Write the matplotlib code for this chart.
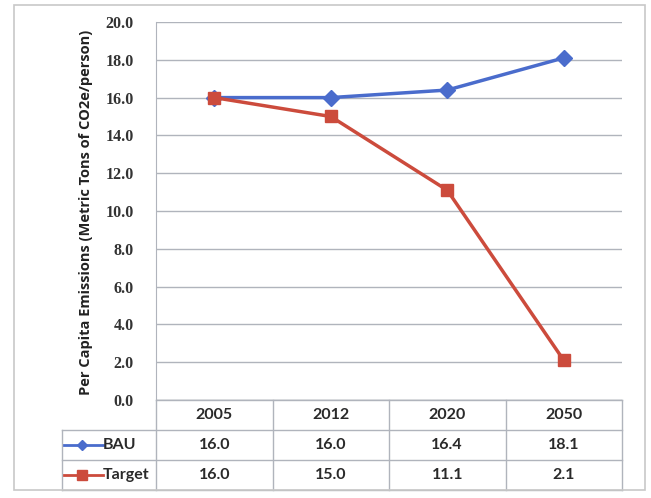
import matplotlib
matplotlib.use("Agg")
import matplotlib.pyplot as plt
from matplotlib.lines import Line2D
from matplotlib.patches import Rectangle

years = ["2005", "2012", "2020", "2050"]
bau = [16.0, 16.0, 16.4, 18.1]
target = [16.0, 15.0, 11.1, 2.1]
series_names = ["BAU", "Target"]
yticks = [0, 2, 4, 6, 8, 10, 12, 14, 16, 18, 20]
ylabel = "Per Capita Emissions (Metric Tons of CO2e/person)"

W, H = 651, 498
fig = plt.figure(figsize=(W / 100, H / 100), dpi=100)
fig.patch.set_facecolor("white")

def fx(px):
    return px / W

def fy(py):
    return 1 - py / H

blue = "#4a6ccc"
red = "#cc4b3c"
grid_c = "#b0b4bc"
tick_font = "Liberation Serif"
label_font = "Open Sans"
table_font = "Lato"

# outer chart border
fig.add_artist(Rectangle((fx(14), fy(490)), fx(645) - fx(14), fy(5) - fy(490),
                         transform=fig.transFigure, fill=False, ec="#c8c8c8", lw=1.2))

L, R, T, B = 156, 622, 22, 400
ax = fig.add_axes([fx(L), fy(B), fx(R) - fx(L), fy(T) - fy(B)])
x = list(range(len(years)))
ax.set_xlim(-0.5, len(years) - 0.5)
ax.set_ylim(0, 20)
ax.set_yticks(yticks)
ax.set_yticklabels([f"{v:.1f}" for v in yticks], fontfamily=tick_font,
                   fontsize=11.5, fontweight="bold", color="#333333")
ax.set_xticks([])
for s in ["top", "right", "bottom"]:
    ax.spines[s].set_visible(False)
ax.spines["left"].set_color(grid_c)
ax.tick_params(axis="y", length=0, pad=16)
ax.yaxis.grid(True, color=grid_c, lw=1)
ax.set_axisbelow(True)
ax.axhline(0, color=grid_c, lw=1)

ax.plot(x, bau, color=blue, lw=2.5, marker="D", ms=8, mfc=blue, mec=blue, zorder=3)
ax.plot(x, target, color=red, lw=2.5, marker="s", ms=9, mfc=red, mec=red, zorder=3)

fig.text(fx(86), fy(212), ylabel, rotation=90, ha="center", va="center",
         fontfamily=label_font, fontsize=10.5, fontweight="bold", color="#222222")

# data table
tax = fig.add_axes([0, 0, 1, 1], facecolor="none")
tax.set_xlim(0, W)
tax.set_ylim(H, 0)
tax.axis("off")
col_edges = [L + (R - L) * i / len(years) for i in range(len(years) + 1)]
row_edges = [400, 430, 460, 490]
tl = 62
lc = grid_c
tax.plot([L, R], [row_edges[0]] * 2, color=lc, lw=1)
for yv in row_edges[1:]:
    tax.plot([tl, R], [yv, yv], color=lc, lw=1)
for xv in col_edges:
    tax.plot([xv, xv], [row_edges[0], row_edges[-1]], color=lc, lw=1)
tax.plot([tl, tl], [row_edges[1], row_edges[-1]], color=lc, lw=1)

cell_font = dict(fontfamily=table_font, fontsize=11.5, fontweight="bold", color="#2a2a2a",
                 ha="center", va="center")
for i, yr in enumerate(years):
    cx = (col_edges[i] + col_edges[i + 1]) / 2
    tax.text(cx, (row_edges[0] + row_edges[1]) / 2, yr, **cell_font)
    tax.text(cx, (row_edges[1] + row_edges[2]) / 2, f"{bau[i]:.1f}", **cell_font)
    tax.text(cx, (row_edges[2] + row_edges[3]) / 2, f"{target[i]:.1f}", **cell_font)

for r, (name, col, mk, ms) in enumerate([(series_names[0], blue, "D", 5),
                                         (series_names[1], red, "s", 7)]):
    yc = (row_edges[r + 1] + row_edges[r + 2]) / 2
    tax.add_line(Line2D([64, 103], [yc, yc], color=col, lw=2))
    tax.plot([82], [yc], marker=mk, ms=ms, color=col, mec=col)
    tax.text(103, yc, name, fontfamily=table_font, fontsize=11.5, fontweight="bold",
             color="#2a2a2a", ha="left", va="center")

fig.savefig("out.png", dpi=100, facecolor="white")
